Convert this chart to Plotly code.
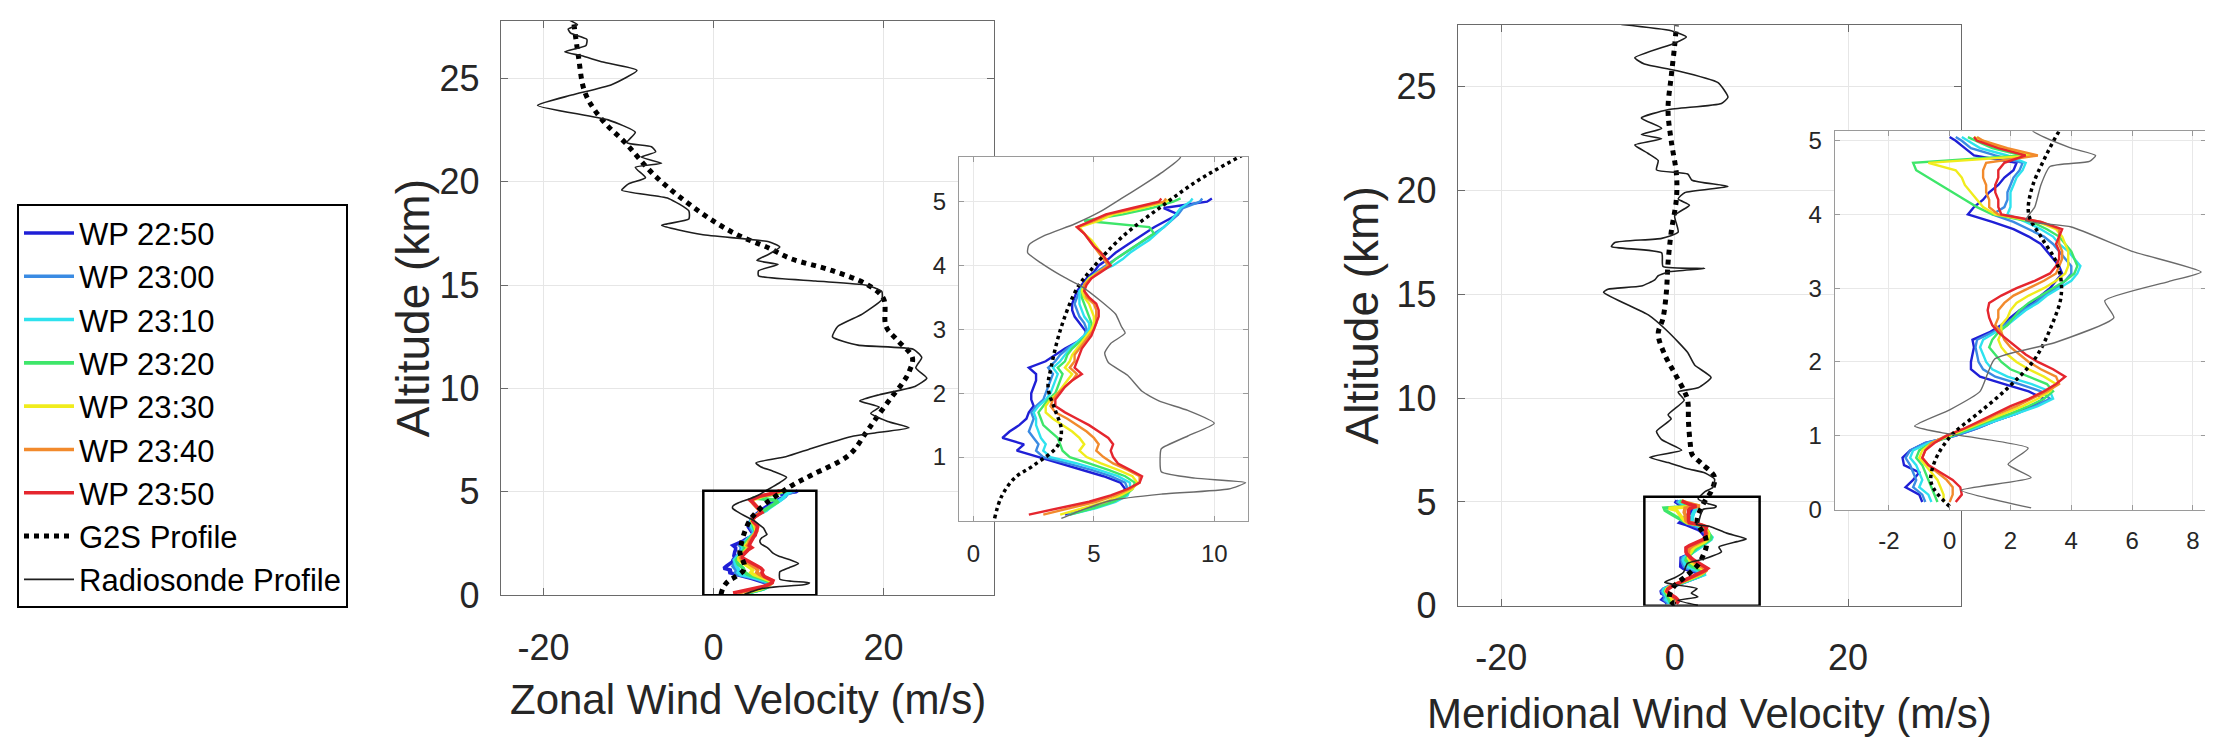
import plotly.graph_objects as go

# ---------------- DATA ----------------
WP_LABELS = ["WP 22:50", "WP 23:00", "WP 23:10", "WP 23:20", "WP 23:30", "WP 23:40", "WP 23:50"]

WP_ALT = [0.1, 0.2, 0.3, 0.4, 0.5, 0.6, 0.7, 0.8, 0.9, 1.0,
          1.1, 1.2, 1.3, 1.4, 1.5, 1.6, 1.7, 1.8, 1.9, 2.0,
          2.1, 2.2, 2.3, 2.4, 2.5, 2.6, 2.7, 2.8, 2.9, 3.0,
          3.1, 3.2, 3.3, 3.4, 3.5, 3.6, 3.7, 3.8, 3.9, 4.0,
          4.1, 4.2, 4.3, 4.4, 4.5, 4.6, 4.7, 4.8, 4.9, 5.0, 5.05]

# Zonal wind profiler (m/s)
U_2250 = [3.8, 4.8, 5.6, 6.1, 6.3, 6.1, 5.4, 4.5, 3.6, 2.6,
          1.8, 2.1, 1.2, 1.5, 1.9, 2.2, 2.3, 2.5, 2.4, 2.4,
          2.5, 2.6, 2.6, 2.3, 3.0, 3.4, 3.8, 4.3, 4.8, 4.6,
          4.4, 4.2, 4.1, 4.1, 4.2, 4.3, 4.5, 4.7, 5.0, 5.2,
          5.6, 5.9, 6.3, 6.7, 7.1, 7.5, 8.0, 8.5, 7.9, 9.7, 9.9]
U_2300 = [3.9, 5.0, 5.8, 6.3, 6.4, 6.3, 5.7, 4.9, 3.9, 2.9,
          2.6, 2.7, 2.5, 2.3, 2.4, 2.5, 2.4, 2.6, 2.9, 3.0,
          3.1, 3.2, 3.3, 3.1, 3.4, 3.6, 3.9, 4.3, 4.6, 4.7,
          4.6, 4.4, 4.3, 4.2, 4.3, 4.4, 4.6, 4.8, 5.1, 5.5,
          5.9, 6.3, 6.7, 7.1, 7.5, 7.9, 8.2, 8.5, 8.7, 9.4, 9.5]
U_2310 = [4.0, 5.1, 5.9, 6.4, 6.5, 6.5, 6.0, 5.2, 4.3, 3.2,
          2.9, 3.0, 2.8, 2.7, 2.6, 2.6, 2.5, 2.7, 3.0, 3.2,
          3.3, 3.4, 3.5, 3.3, 3.6, 3.8, 4.0, 4.3, 4.6, 4.8,
          4.8, 4.6, 4.5, 4.4, 4.4, 4.4, 4.6, 4.8, 5.2, 5.8,
          6.2, 6.5, 6.9, 7.3, 7.6, 7.9, 8.2, 8.4, 8.6, 9.0, 9.1]
U_2320 = [4.0, 5.0, 5.8, 6.3, 6.6, 6.7, 6.3, 5.6, 4.8, 4.0,
          3.7, 3.6, 3.5, 3.2, 2.9, 2.8, 2.7, 2.9, 3.1, 3.4,
          3.5, 3.6, 3.7, 3.5, 3.8, 3.9, 4.1, 4.4, 4.7, 4.9,
          4.9, 4.8, 4.7, 4.6, 4.5, 4.5, 4.6, 4.8, 5.2, 5.6,
          5.9, 6.3, 6.7, 7.1, 7.5, 7.3, 4.6, 6.2, 7.4, 8.3, 8.6]
U_2330 = [3.6, 4.6, 5.5, 6.1, 6.6, 6.8, 6.6, 6.0, 5.3, 4.7,
          4.4, 4.6, 4.4, 4.1, 3.7, 3.3, 3.0, 3.0, 3.2, 3.5,
          3.7, 3.9, 4.1, 3.8, 4.0, 4.1, 4.3, 4.5, 4.7, 4.9,
          5.0, 5.0, 4.9, 4.8, 4.6, 4.5, 4.6, 4.8, 5.2, 5.6,
          5.5, 5.3, 5.1, 4.9, 4.6, 4.4, 5.2, 5.8, 7.0, 8.0, 8.2]
U_2340 = [2.9, 4.0, 5.1, 5.9, 6.5, 6.9, 6.9, 6.4, 5.8, 5.4,
          5.1, 5.2, 5.0, 4.7, 4.3, 3.9, 3.4, 3.2, 3.3, 3.5,
          3.8, 4.1, 4.3, 4.0, 4.2, 4.2, 4.4, 4.6, 4.8, 5.0,
          5.1, 5.1, 5.1, 5.0, 4.7, 4.6, 4.6, 4.9, 5.2, 5.6,
          5.4, 5.2, 5.0, 4.8, 4.6, 4.3, 5.0, 5.6, 6.8, 7.9, 8.0]
U_2350 = [2.3, 3.6, 4.8, 5.7, 6.4, 6.9, 7.0, 6.5, 6.0, 5.8,
          5.7, 5.8, 5.6, 5.2, 4.8, 4.3, 3.8, 3.4, 3.4, 3.6,
          3.8, 4.1, 4.5, 4.2, 4.3, 4.4, 4.5, 4.7, 4.9, 5.0,
          5.1, 5.2, 5.2, 5.1, 4.8, 4.6, 4.7, 4.9, 5.3, 5.7,
          5.5, 5.3, 5.0, 4.8, 4.6, 4.3, 4.9, 5.5, 6.6, 7.7, 7.8]

# Meridional wind profiler (m/s)
V_2250 = [-0.9, -1.0, -1.45, -1.2, -1.0, -1.5, -1.55, -1.3, -0.8, 0.2,
          0.9, 1.5, 2.2, 2.7, 3.1, 2.6, 1.8, 1.0, 0.7, 0.7,
          0.75, 0.8, 0.75, 1.3, 1.7, 2.0, 2.3, 2.7, 3.0, 3.3,
          3.5, 3.7, 3.6, 3.4, 3.2, 3.0, 2.6, 2.1, 1.4, 0.6,
          0.8, 1.1, 1.3, 1.6, 1.8, 2.1, 2.2, 0.8, 0.5, 0.2, 0.0]
V_2300 = [-0.8, -0.9, -1.2, -1.1, -1.2, -1.3, -1.45, -1.3, -0.8, 0.2,
          0.9, 1.5, 2.2, 2.8, 3.3, 3.0, 2.3, 1.5, 1.1, 0.95,
          0.9, 0.85, 0.9, 1.4, 1.8, 2.1, 2.4, 2.8, 3.1, 3.5,
          3.8, 4.0, 4.0, 3.8, 3.6, 3.4, 3.1, 2.6, 2.1, 1.4,
          1.8, 1.9, 1.9, 2.0, 2.1, 2.3, 2.4, 1.5, 0.7, 0.4, 0.2]
V_2310 = [-0.6, -0.7, -1.0, -0.9, -1.0, -1.1, -1.3, -1.2, -0.7, 0.1,
          0.8, 1.5, 2.2, 2.9, 3.4, 3.3, 2.7, 1.9, 1.4, 1.2,
          1.1, 1.0, 1.1, 1.5, 1.9, 2.2, 2.5, 2.9, 3.2, 3.6,
          4.0, 4.2, 4.3, 4.1, 3.9, 3.6, 3.4, 3.0, 2.5, 1.9,
          2.0, 2.0, 2.0, 2.1, 2.2, 2.4, 2.5, 1.9, 1.0, 0.6, 0.4]
V_2320 = [-0.4, -0.5, -0.6, -0.7, -0.8, -0.9, -1.1, -1.0, -0.6, 0.1,
          0.7, 1.3, 2.0, 2.6, 3.1, 3.4, 3.2, 2.6, 2.0, 1.7,
          1.5, 1.3, 1.4, 1.6, 1.9, 2.1, 2.3, 2.6, 3.0, 3.4,
          3.8, 4.1, 4.2, 4.1, 4.0, 3.8, 3.6, 3.2, 2.7, 1.4,
          0.9, 0.5, 0.1, -0.3, -0.7, -1.1, -1.2, 2.4, 1.4, 0.9, 0.6]
V_2330 = [-0.2, -0.2, -0.3, -0.4, -0.6, -0.8, -1.0, -0.9, -0.6, 0.0,
          0.6, 1.2, 1.8, 2.4, 2.9, 3.3, 3.5, 3.1, 2.6, 2.2,
          1.9, 1.7, 1.6, 1.7, 1.7, 1.9, 2.0, 2.2, 2.6, 3.1,
          3.5, 3.8, 3.9, 3.9, 3.9, 3.8, 3.7, 3.5, 2.9, 1.5,
          1.1, 0.9, 0.7, 0.5, 0.4, 0.2, -0.7, 2.8, 1.7, 1.1, 0.8]
V_2340 = [0.0, 0.1, 0.1, -0.1, -0.4, -0.7, -0.9, -0.8, -0.6, -0.1,
          0.5, 1.1, 1.6, 2.2, 2.7, 3.2, 3.6, 3.5, 3.0, 2.6,
          2.3, 2.0, 1.8, 1.7, 1.5, 1.6, 1.6, 1.8, 2.1, 2.6,
          3.1, 3.5, 3.6, 3.7, 3.7, 3.6, 3.6, 3.6, 3.0, 1.6,
          1.3, 1.3, 1.2, 1.2, 1.1, 1.1, 1.2, 2.9, 1.9, 1.1, 0.9]
V_2350 = [0.2, 0.4, 0.35, 0.1, -0.3, -0.7, -0.9, -0.8, -0.5, -0.1,
          0.5, 1.0, 1.5, 2.0, 2.6, 3.1, 3.5, 3.8, 3.4, 2.9,
          2.5, 2.2, 1.9, 1.6, 1.4, 1.3, 1.25, 1.3, 1.7, 2.2,
          2.8, 3.3, 3.5, 3.6, 3.6, 3.5, 3.6, 3.7, 3.0, 1.7,
          1.6, 1.6, 1.5, 1.5, 1.6, 1.6, 1.8, 2.5, 1.6, 0.9, 0.8]

# G2S model profiles
G2S_U_ALT = [0.04, 0.37, 0.67, 0.87, 1.18, 1.43, 1.73, 2.08, 2.43, 3.04,
             3.64, 3.94, 4.44, 4.95, 5.35, 5.8, 6.8, 7.9, 8.6, 9.5,
             10.3, 10.8, 11.5, 12.35, 13.0, 14.35, 15.0, 15.7, 16.3, 16.8,
             17.5, 18.6, 20.3, 21.9, 23.0, 24.3, 26.1, 27.9]
G2S_U = [0.88, 1.15, 1.7, 2.5, 3.5, 3.65, 3.4, 3.1, 3.24, 3.65,
         4.3, 4.9, 6.15, 7.9, 9.4, 11.5, 16.0, 18.0, 19.2, 20.8,
         22.3, 23.0, 23.4, 21.6, 20.3, 20.0, 18.2, 14.0, 9.0, 6.5,
         2.5, -1.8, -6.9, -10.4, -13.1, -15.1, -15.9, -16.5]

G2S_V_ALT = [0.04, 0.35, 0.65, 1.0, 1.3, 1.65, 2.04, 2.48, 2.91, 3.3,
             3.7, 4.0, 4.35, 4.74, 5.13, 5.5, 6.2, 6.85, 7.3, 7.8,
             8.8, 9.9, 10.3, 11.2, 12.1, 13.1, 13.85, 15.1, 16.5, 18.0,
             19.6, 20.8, 22.4, 23.9, 25.5, 27.0, 27.96]
G2S_V = [0.0, -0.6, -0.49, 0.05, 0.93, 1.92, 2.8, 3.34, 3.67, 3.56,
         3.0, 2.6, 2.7, 3.1, 3.6, 4.2, 4.6, 3.1, 2.0, 1.8,
         1.6, 1.5, 1.15, 0.0, -1.15, -1.9, -1.35, -0.96, -0.77, -0.4,
         0.2, 0.2, -0.4, -0.77, -0.4, 0.0, 0.2]

# Radiosonde profiles
RS_U_ALT = [0.04, 0.17, 0.32, 0.42, 0.50, 0.60, 0.67, 0.77, 0.98, 1.13,
            1.33, 1.53, 1.73, 1.88, 2.03, 2.28, 2.48, 2.63, 2.78, 2.94,
            3.04, 3.24, 3.44, 3.67, 3.84, 4.04, 4.20, 4.32, 4.47, 4.65,
            4.85, 5.05, 5.25, 5.45, 5.70, 6.00, 6.20, 6.40, 6.70, 7.10,
            7.50, 7.70, 7.85, 8.10, 8.40, 8.80, 9.10, 9.40, 9.70, 10.10,
            10.50, 11.00, 11.50, 11.90, 12.10, 12.50, 13.00, 13.60, 14.30, 14.70,
            15.00, 15.20, 15.45, 15.70, 16.00, 16.20, 16.50, 16.85, 17.10, 17.45,
            17.90, 18.20, 18.60, 19.20, 19.60, 19.90, 20.20, 20.70, 20.90, 21.20,
            21.45, 21.70, 21.90, 22.40, 23.00, 23.70, 24.20, 24.70, 25.40, 25.80,
            26.10, 26.30, 26.60, 26.90, 27.20, 27.40, 27.60, 27.90]
RS_U = [3.65, 4.5, 5.7, 7.8, 10.6, 11.3, 9.2, 7.8, 7.75, 7.8,
        8.9, 10.0, 8.9, 7.7, 7.0, 6.4, 5.6, 5.45, 5.7, 6.3,
        6.15, 5.9, 5.3, 4.5, 3.65, 2.8, 2.25, 2.3, 2.96, 4.2,
        5.3, 6.15, 7.0, 7.8, 8.6, 7.0, 5.6, 5.0, 8.5, 11.5,
        14.7, 16.5, 19.0, 23.0, 20.5, 18.5, 19.5, 17.2, 19.5, 23.7,
        25.1, 23.8, 24.5, 23.5, 17.0, 14.0, 14.6, 17.5, 19.8, 19.8,
        18.0, 12.0, 5.3, 5.3, 7.6, 5.1, 6.5, 7.8, 6.5, -1.4,
        -6.1, -2.9, -2.9, -5.3, -10.8, -10.0, -8.0, -9.2, -6.1, -8.5,
        -6.8, -7.3, -10.2, -9.2, -12.4, -20.7, -16.7, -12.0, -9.0, -13.0,
        -15.5, -17.5, -15.0, -14.9, -16.8, -17.1, -16.0, -17.3]

RS_V_ALT = [0.02, 0.26, 0.43, 0.61, 0.83, 1.04, 1.13, 1.35, 1.6, 2.04,
            2.26, 2.6, 2.83, 3.09, 3.22, 3.5, 3.83, 3.92, 4.1, 4.4,
            4.65, 4.72, 4.8, 4.9, 5.15, 5.5, 5.7, 6.1, 6.4, 6.6,
            6.9, 7.15, 7.5, 8.0, 8.4, 9.0, 9.2, 9.9, 10.3, 10.5,
            11.0, 11.6, 12.2, 13.2, 14.0, 15.1, 15.25, 15.4, 15.7, 15.9,
            16.1, 16.25, 16.35, 17.0, 17.3, 17.5, 17.7, 18.0, 18.8, 19.3,
            19.6, 19.9, 20.2, 20.5, 20.8, 21.0, 21.45, 21.8, 22.2, 22.5,
            22.7, 23.0, 23.5, 23.9, 24.2, 24.5, 25.2, 25.8, 26.1, 26.4,
            27.1, 27.4, 27.7, 28.0]
RS_V = [2.68, 0.38, 2.68, 1.92, 2.58, -0.27, -1.15, 0.0, 1.0, 1.48,
        3.45, 5.4, 5.1, 7.2, 8.27, 6.0, 4.0, 2.5, 2.8, 3.0,
        3.3, 4.6, 4.8, 4.0, 2.7, 3.5, 4.4, 4.6, 3.5, 1.5,
        -0.76, -2.9, 0.8, -1.5, -2.1, -0.4, -0.76, 1.1, 0.4, 2.7,
        4.2, 2.3, 1.5, -0.76, -3.0, -8.2, -7.7, -3.85, -2.3, -1.9,
        -0.5, 3.46, -1.35, -1.5, -7.3, -6.9, -1.5, 0.4, 0.0, 1.7,
        0.4, 1.15, 6.15, 2.0, 1.5, -2.1, -1.9, -3.1, -4.6, -1.5,
        -3.85, -1.5, -3.85, -0.8, 5.4, 6.15, 5.0, 0.0, -3.5, -4.6,
        0.0, 1.35, -0.4, -6.15]

# Tick values / labels
MAIN_X_TICKS = [-20, 0, 20]
MAIN_X_TEXT = ["-20", "0", "20"]
MAIN_Y_TICKS = [0, 5, 10, 15, 20, 25]
INSET_U_X_TICKS = [0, 5, 10]
INSET_U_Y_TICKS = [1, 2, 3, 4, 5]
INSET_V_X_TICKS = [-2, 0, 2, 4, 6, 8]
INSET_V_X_TEXT = ["-2", "0", "2", "4", "6", "8"]
INSET_V_Y_TICKS = [0, 1, 2, 3, 4, 5]

# Zoom boxes drawn on the main panels (data units)
ZOOM_BOX_U = [-1.2, 12.1, 0.0, 5.05]
ZOOM_BOX_V = [-3.5, 9.8, 0.0, 5.25]

# ---------------- STYLE ----------------
W, H = 2213, 741
WP_COLORS = ["#1f1fd6", "#3a8be3", "#2ee2ee", "#3ee66a", "#f0ec1c", "#f28a2c", "#e5262e"]
FONT = "Liberation Sans, Arial, Helvetica, sans-serif"
TXT = "#262626"


def fx(p):
    return p / W


def fy(p):
    return 1 - p / H


U_SERIES = [U_2250, U_2300, U_2310, U_2320, U_2330, U_2340, U_2350]
V_SERIES = [V_2250, V_2300, V_2310, V_2320, V_2330, V_2340, V_2350]

fig = go.Figure()

# panels: (xaxis, yaxis, is_inset, component)
panels = [("x", "y", False, "u"), ("x3", "y3", True, "u"),
          ("x2", "y2", False, "v"), ("x4", "y4", True, "v")]

for k, (lab, col) in enumerate(zip(WP_LABELS, WP_COLORS)):
    for (xa, ya, inset, comp) in panels:
        xs = U_SERIES[k] if comp == "u" else V_SERIES[k]
        fig.add_trace(go.Scatter(
            x=xs, y=WP_ALT, mode="lines", name=lab, legendgroup=lab,
            showlegend=(xa == "x"), xaxis=xa, yaxis=ya,
            line=dict(color=col, width=2.4 if inset else 3.6)))

for (xa, ya, inset, comp) in panels:
    fig.add_trace(go.Scatter(
        x=G2S_U if comp == "u" else G2S_V,
        y=G2S_U_ALT if comp == "u" else G2S_V_ALT,
        mode="lines", name="G2S Profile", legendgroup="g2s",
        showlegend=(xa == "x"), xaxis=xa, yaxis=ya,
        line=dict(color="black", width=3.5 if inset else 5, dash="dot", shape="spline")))

for (xa, ya, inset, comp) in panels:
    fig.add_trace(go.Scatter(
        x=RS_U if comp == "u" else RS_V,
        y=RS_U_ALT if comp == "u" else RS_V_ALT,
        mode="lines", name="Radiosonde Profile", legendgroup="rs",
        showlegend=(xa == "x"), xaxis=xa, yaxis=ya,
        line=dict(color="#6a6a6a" if inset else "#1e1e1e", width=1.4 if inset else 1.6,
                  shape="spline", smoothing=0.5)))


def main_x(dom, standoff):
    return dict(domain=dom, range=[-25, 33], tickvals=MAIN_X_TICKS, ticktext=MAIN_X_TEXT,
                showgrid=True, gridcolor="#e6e6e6", gridwidth=1.2, zeroline=False, showline=True,
                linecolor="#6a6a6a", linewidth=1.4, mirror="allticks", ticks="inside",
                ticklen=7, tickcolor="#6a6a6a", tickfont=dict(size=36, color=TXT, family=FONT),
                ticklabelstandoff=standoff)


def main_y(dom, rng):
    return dict(domain=dom, range=rng, tickvals=MAIN_Y_TICKS, showgrid=True,
                gridcolor="#e6e6e6", gridwidth=1.2, zeroline=False, showline=True,
                linecolor="#6a6a6a", linewidth=1.4, mirror="allticks", ticks="inside",
                ticklen=7, tickcolor="#6a6a6a", tickfont=dict(size=36, color=TXT, family=FONT),
                ticklabelstandoff=13)


def inset_ax(dom, rng, vals, standoff, text=None):
    d = dict(domain=dom, range=rng, tickvals=vals, showgrid=True,
             gridcolor="#e8e8e8", gridwidth=1.1, zeroline=False, showline=True,
             linecolor="#9a9a9a", linewidth=1.3, mirror="allticks", ticks="inside",
             ticklen=5, tickcolor="#9a9a9a", tickfont=dict(size=24, color=TXT, family=FONT),
             ticklabelstandoff=standoff)
    if text is not None:
        d["ticktext"] = text
    return d


fig.update_layout(
    width=W, height=H, autosize=False,
    margin=dict(l=0, r=0, t=0, b=0),
    paper_bgcolor="white", plot_bgcolor="white",
    font=dict(family=FONT, color=TXT),
    xaxis=main_x([fx(493), fx(986)], 20),
    yaxis=main_y([fy(603.5), fy(9)], [0, 27.8]),
    xaxis2=dict(main_x([fx(1450), fx(1952.7)], 20), anchor="y2"),
    yaxis2=dict(main_y([fy(614.5), fy(13)], [0, 28]), anchor="x2"),
    xaxis3=dict(inset_ax([fx(951), fx(1240)], [-0.6, 11.4], INSET_U_X_TICKS, 11), anchor="y3"),
    yaxis3=dict(inset_ax([fy(526.7), fy(150)], [0, 5.7], INSET_U_Y_TICKS, 7), anchor="x3"),
    xaxis4=dict(inset_ax([fx(1826.7), fx(2198)], [-3.78, 8.43], INSET_V_X_TICKS, 9,
                         INSET_V_X_TEXT), anchor="y4"),
    yaxis4=dict(inset_ax([fy(515.5), fy(123.3)], [-0.01, 5.13], INSET_V_Y_TICKS, 7), anchor="x4"),
    legend=dict(x=fx(9), y=fy(199), xanchor="left", yanchor="top",
                bgcolor="white", bordercolor="black", borderwidth=2,
                font=dict(size=31, color="black", family=FONT),
                itemwidth=50, tracegroupgap=0, traceorder="normal"),
    showlegend=True,
)

fig.add_shape(type="rect", xref="x", yref="y",
              x0=ZOOM_BOX_U[0], x1=ZOOM_BOX_U[1], y0=ZOOM_BOX_U[2], y1=ZOOM_BOX_U[3],
              line=dict(color="black", width=2.5))
fig.add_shape(type="rect", xref="x2", yref="y2",
              x0=ZOOM_BOX_V[0], x1=ZOOM_BOX_V[1], y0=ZOOM_BOX_V[2], y1=ZOOM_BOX_V[3],
              line=dict(color="black", width=2.5))

title_font = dict(size=42, color=TXT, family=FONT)
fig.add_annotation(text="Zonal Wind Velocity (m/s)", xref="paper", yref="paper",
                   x=fx(739.5), y=fy(712), xanchor="center", yanchor="middle",
                   showarrow=False, font=title_font)
fig.add_annotation(text="Meridional Wind Velocity (m/s)", xref="paper", yref="paper",
                   x=fx(1701), y=fy(726), xanchor="center", yanchor="middle",
                   showarrow=False, font=title_font)
fig.add_annotation(text="Altitude (km)", xref="paper", yref="paper",
                   x=fx(405), y=fy(306.5), xanchor="center", yanchor="middle",
                   textangle=-90, showarrow=False, font=dict(size=46, color=TXT, family=FONT))
fig.add_annotation(text="Altitude (km)", xref="paper", yref="paper",
                   x=fx(1354), y=fy(314), xanchor="center", yanchor="middle",
                   textangle=-90, showarrow=False, font=dict(size=46, color=TXT, family=FONT))

fig.write_html("out.html")
